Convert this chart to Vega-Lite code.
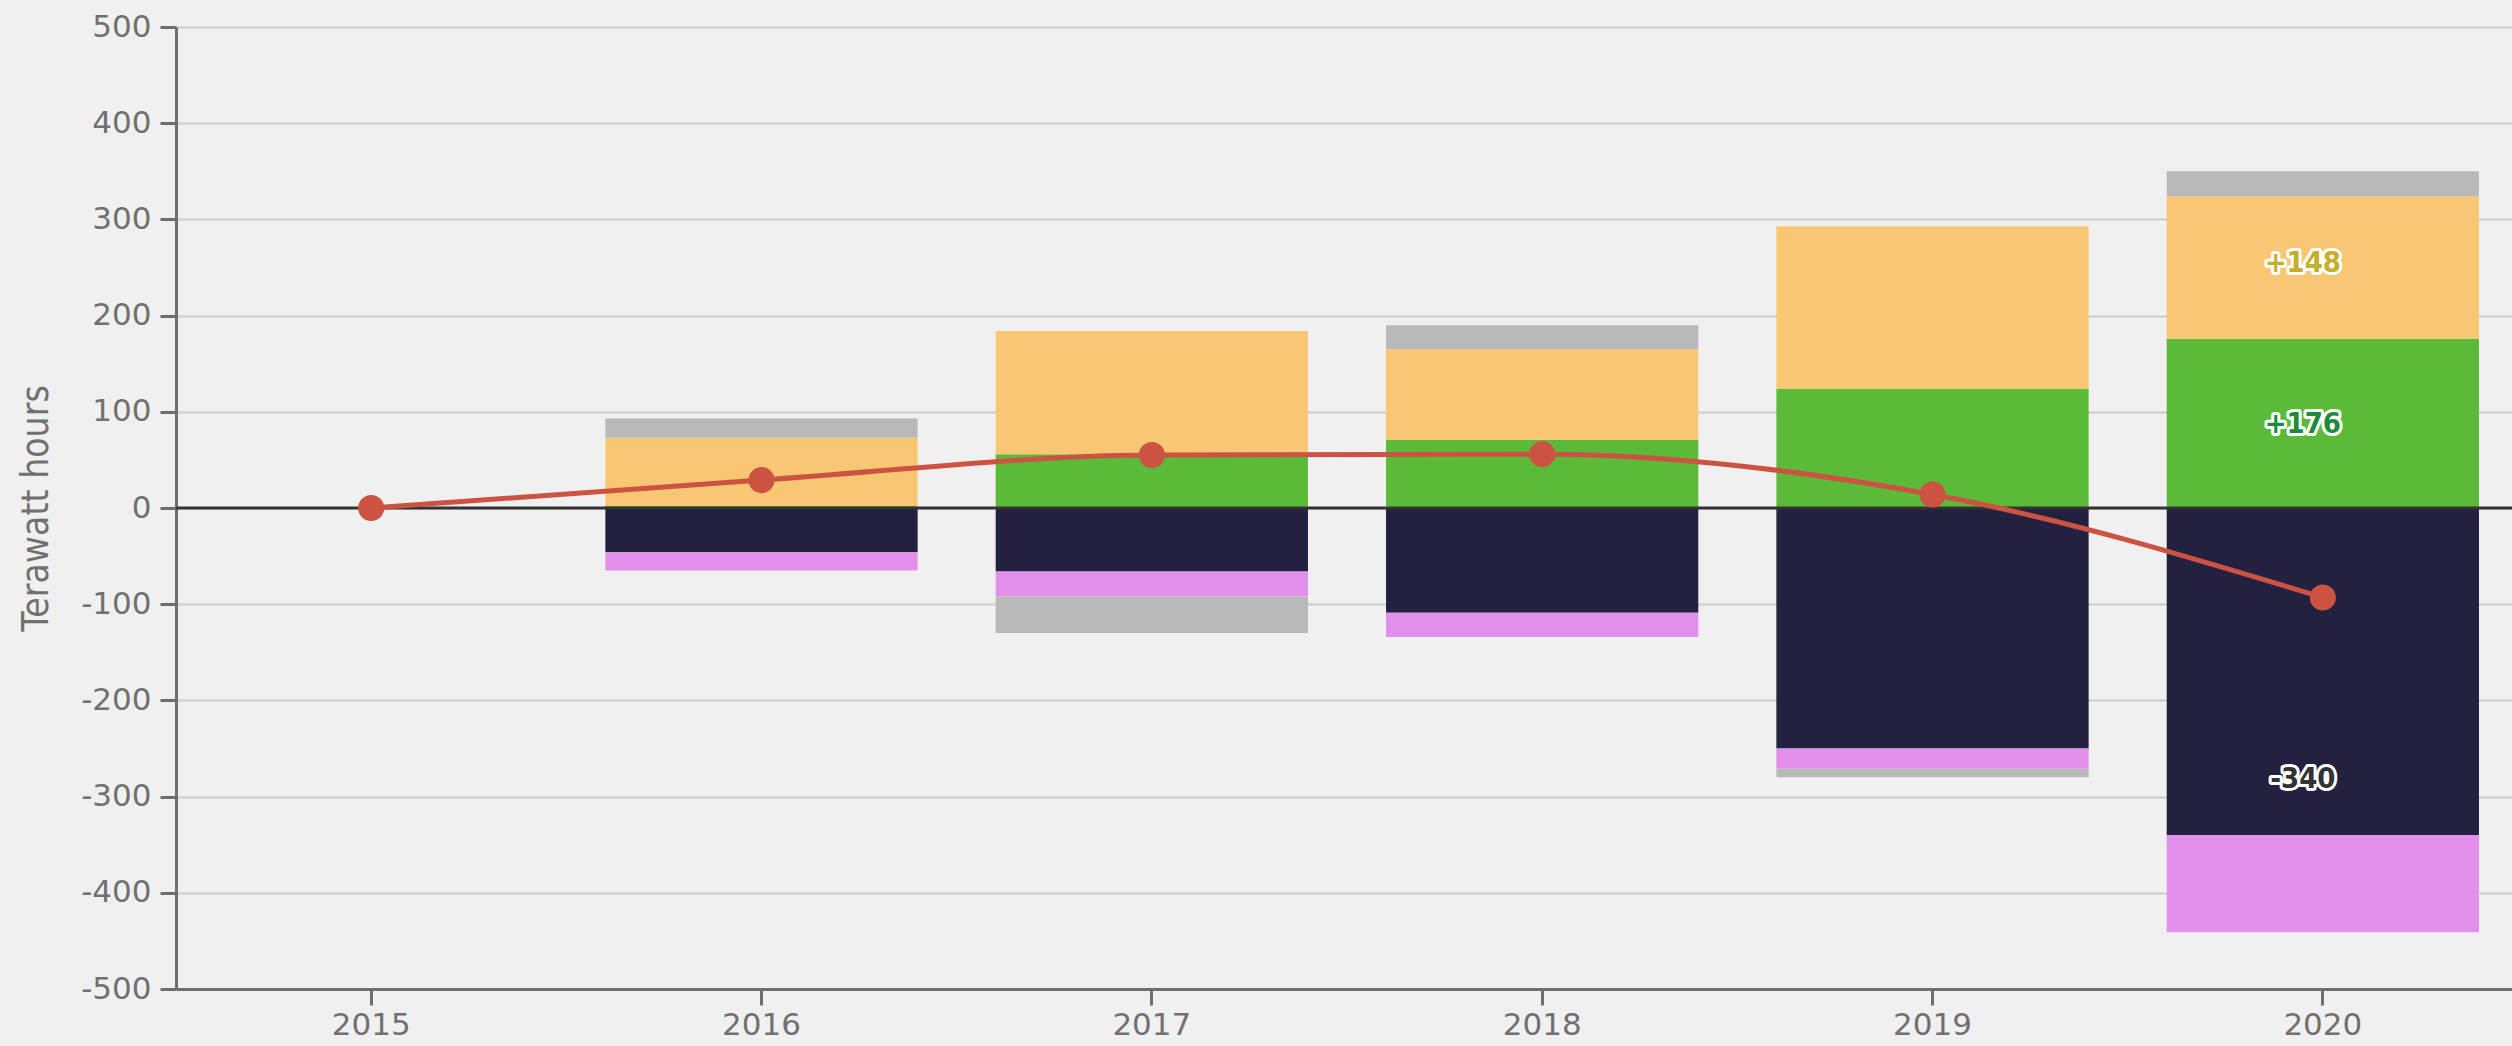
{
  "$schema": "https://vega.github.io/schema/vega-lite/v6.json",
  "width": 2342,
  "height": 962,
  "autosize": {"type": "none"},
  "padding": {"left": 176, "top": 27, "right": 0, "bottom": 57},
  "background": "#F0F0F0",
  "config": {
    "view": {"stroke": null},
    "font": "DejaVu Sans Condensed, DejaVu Sans",
    "axis": {
      "labelFont": "DejaVu Sans",
      "labelFontSize": 31,
      "labelColor": "#707070",
      "domainColor": "#6E6E6E",
      "domainWidth": 3,
      "tickColor": "#6E6E6E",
      "tickWidth": 3,
      "tickSize": 16,
      "titleFont": "DejaVu Sans Condensed, DejaVu Sans",
      "titleFontSize": 37,
      "titleFontWeight": "normal",
      "titleColor": "#707070"
    },
    "axisY": {
      "gridColor": "#CBCBCB",
      "gridWidth": 2,
      "labelPadding": 9,
      "tickCount": 10,
      "labelExpr": "replace(datum.label, '\u2212', '-')",
      "titleX": -129,
      "titleY": 481,
      "titleAngle": -90,
      "titleAlign": "center",
      "titleBaseline": "alphabetic"
    },
    "axisX": {"grid": false, "labelAngle": 0, "labelPadding": 5}
  },
  "datasets": {
    "bars": [
      {"year": "2016", "source": "Wind and solar", "rank": 1, "value": 2},
      {"year": "2016", "source": "Gas", "rank": 3, "value": 71},
      {"year": "2016", "source": "Other", "rank": 5, "value": 20},
      {"year": "2016", "source": "Coal", "rank": 2, "value": -46},
      {"year": "2016", "source": "Nuclear", "rank": 4, "value": -19},
      {"year": "2017", "source": "Wind and solar", "rank": 1, "value": 56},
      {"year": "2017", "source": "Gas", "rank": 3, "value": 128},
      {"year": "2017", "source": "Coal", "rank": 2, "value": -66},
      {"year": "2017", "source": "Nuclear", "rank": 4, "value": -26},
      {"year": "2017", "source": "Other", "rank": 5, "value": -38},
      {"year": "2018", "source": "Wind and solar", "rank": 1, "value": 71},
      {"year": "2018", "source": "Gas", "rank": 3, "value": 94},
      {"year": "2018", "source": "Other", "rank": 5, "value": 25},
      {"year": "2018", "source": "Coal", "rank": 2, "value": -109},
      {"year": "2018", "source": "Nuclear", "rank": 4, "value": -25},
      {"year": "2019", "source": "Wind and solar", "rank": 1, "value": 124},
      {"year": "2019", "source": "Gas", "rank": 3, "value": 169},
      {"year": "2019", "source": "Coal", "rank": 2, "value": -250},
      {"year": "2019", "source": "Nuclear", "rank": 4, "value": -21},
      {"year": "2019", "source": "Other", "rank": 5, "value": -9},
      {"year": "2020", "source": "Wind and solar", "rank": 1, "value": 176},
      {"year": "2020", "source": "Gas", "rank": 3, "value": 148},
      {"year": "2020", "source": "Other", "rank": 5, "value": 26},
      {"year": "2020", "source": "Coal", "rank": 2, "value": -340},
      {"year": "2020", "source": "Nuclear", "rank": 4, "value": -101}
    ],
    "net": [
      {"year": "2015", "net": 0},
      {"year": "2016", "net": 29},
      {"year": "2017", "net": 55},
      {"year": "2018", "net": 56},
      {"year": "2019", "net": 14},
      {"year": "2020", "net": -93}
    ],
    "labels": [
      {"year": "2020", "series": "Gas", "label": "+148", "pos": 255},
      {"year": "2020", "series": "Wind and solar", "label": "+176", "pos": 87},
      {"year": "2020", "series": "Coal", "label": "-340", "pos": -282}
    ]
  },
  "resolve": {"scale": {"color": "independent"}},
  "layer": [
    {
      "data": {"name": "bars"},
      "mark": {"type": "bar"},
      "encoding": {
        "x": {
          "field": "year", "type": "ordinal", "title": null,
          "scale": {"domain": ["2015", "2016", "2017", "2018", "2019", "2020"], "paddingInner": 0.2, "paddingOuter": 0.1}
        },
        "y": {
          "field": "value", "type": "quantitative", "stack": "zero", "title": "Terawatt hours",
          "scale": {"domain": [-500, 500], "nice": false, "zero": false}
        },
        "color": {
          "field": "source", "type": "nominal", "legend": null,
          "scale": {
            "domain": ["Wind and solar", "Gas", "Other", "Coal", "Nuclear"],
            "range": ["#5BBB38", "#F8C773", "#B9B9B9", "#222140", "#E290EB"]
          }
        },
        "order": {"field": "rank", "type": "quantitative", "sort": "ascending"}
      }
    },
    {
      "data": {"values": [{}]},
      "mark": {"type": "rule", "color": "#333333", "strokeWidth": 3},
      "encoding": {"y": {"datum": 0, "type": "quantitative"}}
    },
    {
      "data": {"name": "net"},
      "mark": {"type": "line", "color": "#CC5241", "strokeWidth": 5, "interpolate": "monotone"},
      "encoding": {
        "x": {"field": "year", "type": "ordinal", "title": null},
        "y": {"field": "net", "type": "quantitative", "title": "Terawatt hours"}
      }
    },
    {
      "data": {"name": "net"},
      "mark": {"type": "point", "filled": true, "color": "#CC5241", "opacity": 1, "size": 680},
      "encoding": {
        "x": {"field": "year", "type": "ordinal", "title": null},
        "y": {"field": "net", "type": "quantitative", "title": "Terawatt hours"}
      }
    },
    {
      "data": {"name": "labels"},
      "mark": {"type": "text", "fontWeight": "bold", "fontSize": 29, "fill": "white", "stroke": "white", "strokeWidth": 6, "strokeJoin": "round", "dx": -20, "baseline": "middle"},
      "encoding": {
        "x": {"field": "year", "type": "ordinal", "title": null},
        "y": {"field": "pos", "type": "quantitative", "title": "Terawatt hours"},
        "text": {"field": "label"}
      }
    },
    {
      "data": {"name": "labels"},
      "mark": {"type": "text", "fontWeight": "bold", "fontSize": 29, "dx": -20, "baseline": "middle"},
      "encoding": {
        "x": {"field": "year", "type": "ordinal", "title": null},
        "y": {"field": "pos", "type": "quantitative", "title": "Terawatt hours"},
        "text": {"field": "label"},
        "color": {
          "field": "series", "type": "nominal", "legend": null,
          "scale": {"domain": ["Gas", "Wind and solar", "Coal"], "range": ["#C4AE2E", "#1E8A3C", "#333333"]}
        }
      }
    }
  ]
}
